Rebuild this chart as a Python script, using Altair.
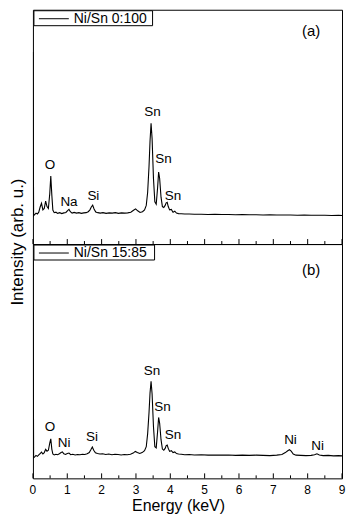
import altair as alt
import pandas as pd

FONT = "Liberation Sans"

# ---------------- data ----------------
series_names = ["Ni/Sn 0:100", "Ni/Sn 15:85"]
panel_tags = ["(a)", "(b)"]

energy_a = [0.00, 0.02, 0.05, 0.09, 0.13, 0.17, 0.21, 0.25, 0.29, 0.33, 0.37, 0.41, 0.45, 0.49, 0.52,
            0.55, 0.58, 0.62, 0.67, 0.72, 0.78, 0.84, 0.90, 0.96, 1.01, 1.05, 1.09, 1.14, 1.20, 1.27,
            1.34, 1.41, 1.48, 1.55, 1.61, 1.66, 1.70, 1.74, 1.78, 1.83, 1.89, 1.96, 2.04, 2.13, 2.22,
            2.31, 2.40, 2.49, 2.58, 2.67, 2.76, 2.85, 2.93, 2.99, 3.05, 3.12, 3.19, 3.25, 3.30, 3.34,
            3.38, 3.41, 3.44, 3.47, 3.51, 3.55, 3.59, 3.63, 3.66, 3.69, 3.73, 3.77, 3.81, 3.85, 3.88,
            3.91, 3.94, 3.98, 4.03, 4.08, 4.13, 4.18, 4.24, 4.32, 4.42, 4.55, 4.70, 4.90, 5.10, 5.30,
            5.50, 5.70, 5.90, 6.10, 6.30, 6.50, 6.70, 6.90, 7.10, 7.30, 7.50, 7.70, 7.90, 8.10, 8.30,
            8.50, 8.70, 8.90, 9.00]
intensity_a = [82.0, 12.0, 12.6, 13.2, 12.8, 13.6, 15.8, 17.4, 14.6, 15.2, 18.3, 16.0, 15.2, 21.5, 29.0,
               21.0, 14.5, 13.4, 13.6, 13.1, 13.4, 13.0, 13.3, 13.5, 14.3, 14.8, 13.8, 13.2, 13.5, 13.2,
               13.4, 13.1, 13.3, 13.4, 13.8, 14.6, 15.8, 16.6, 15.0, 13.7, 13.4, 13.2, 13.4, 13.1, 13.3,
               13.2, 13.4, 13.1, 13.3, 13.2, 13.3, 13.6, 14.4, 15.0, 14.2, 13.5, 13.8, 14.6, 16.5, 22.0,
               33.0, 44.0, 51.5, 45.0, 28.0, 18.0, 17.0, 24.0, 30.7, 28.0, 20.0, 16.0, 15.6, 16.5, 17.6,
               17.8, 16.0, 14.6, 14.8, 13.6, 14.0, 13.2, 13.0, 12.9, 12.8, 12.8, 12.7, 12.7, 12.6, 12.7,
               12.6, 12.6, 12.5, 12.6, 12.5, 12.5, 12.4, 12.5, 12.4, 12.4, 12.4, 12.3, 12.4, 12.3, 12.3,
               12.3, 12.2, 12.3, 12.2]

energy_b = [0.00, 0.02, 0.05, 0.09, 0.13, 0.17, 0.21, 0.25, 0.29, 0.33, 0.37, 0.41, 0.45, 0.49, 0.52,
            0.55, 0.58, 0.62, 0.67, 0.72, 0.77, 0.82, 0.86, 0.90, 0.95, 1.00, 1.05, 1.10, 1.16, 1.23,
            1.30, 1.37, 1.44, 1.51, 1.58, 1.64, 1.69, 1.73, 1.77, 1.82, 1.88, 1.95, 2.03, 2.12, 2.21,
            2.30, 2.39, 2.48, 2.57, 2.66, 2.75, 2.84, 2.92, 2.98, 3.04, 3.11, 3.18, 3.25, 3.30, 3.34,
            3.38, 3.41, 3.44, 3.47, 3.51, 3.55, 3.59, 3.63, 3.66, 3.69, 3.73, 3.77, 3.81, 3.85, 3.88,
            3.91, 3.94, 3.98, 4.03, 4.08, 4.13, 4.18, 4.24, 4.32, 4.42, 4.55, 4.70, 4.90, 5.10, 5.30,
            5.50, 5.70, 5.90, 6.10, 6.30, 6.50, 6.70, 6.90, 7.10, 7.25, 7.35, 7.42, 7.47, 7.52, 7.58,
            7.66, 7.80, 7.95, 8.10, 8.20, 8.27, 8.34, 8.45, 8.60, 8.75, 8.90, 9.00]
intensity_b = [100.0, 8.8, 9.2, 9.8, 9.4, 10.0, 10.6, 11.2, 10.4, 11.0, 12.4, 11.6, 12.0, 15.0, 16.9,
               12.5, 10.4, 10.0, 10.3, 10.1, 10.5, 11.0, 11.3, 10.5, 10.2, 10.6, 10.8, 10.1, 10.3, 10.0,
               10.2, 10.1, 10.3, 10.2, 10.5, 11.0, 12.3, 13.4, 12.0, 10.9, 10.6, 10.4, 10.5, 10.2, 10.4,
               10.1, 10.3, 10.2, 10.0, 10.2, 10.1, 10.3, 10.8, 11.5, 11.0, 10.6, 11.0, 11.8, 13.5, 19.0,
               28.0, 36.5, 41.4, 36.0, 22.0, 13.5, 13.0, 20.0, 26.0, 23.5, 16.5, 12.5, 12.0, 12.8, 14.0,
               14.2, 12.8, 11.5, 11.8, 11.0, 11.3, 10.6, 10.4, 10.3, 10.1, 10.2, 10.0, 10.1, 9.9, 10.0,
               9.9, 10.0, 9.8, 9.9, 9.8, 9.9, 9.8, 9.7, 9.9, 10.2, 11.0, 11.8, 12.2, 11.6, 10.4,
               9.9, 9.8, 9.7, 9.8, 10.1, 10.5, 10.0, 9.7, 9.8, 9.6, 9.7, 9.6]

labels_a_text = ["O", "Na", "Si", "Sn", "Sn", "Sn"]
labels_a_x = [0.50, 1.05, 1.76, 3.48, 3.80, 4.08]
labels_a_y = [33.6, 17.8, 20.7, 56.4, 36.1, 20.7]

labels_b_text = ["O", "Ni", "Si", "Sn", "Sn", "Sn", "Ni", "Ni"]
labels_b_x = [0.50, 0.91, 1.72, 3.47, 3.77, 4.08, 7.50, 8.29]
labels_b_y = [21.8, 15.0, 17.6, 45.7, 30.5, 18.4, 16.3, 13.8]

major_ticks = [0, 1, 2, 3, 4, 5, 6, 7, 8, 9]
major_tick_labels = ["0", "1", "2", "3", "4", "5", "6", "7", "8", "9"]
minor_ticks = [0.5, 1.5, 2.5, 3.5, 4.5, 5.5, 6.5, 7.5, 8.5]

y_title = "Intensity (arb. u.)"
x_title = "Energy (keV)"

# ---------------- layout ----------------
W = 310
H = 235
xscale = alt.Scale(domain=[0, 9], nice=False, zero=False)
yscale = alt.Scale(domain=[0, 100], nice=False, zero=False)


def panel(energy, intensity, name, lt, lx, ly, tag, tag_y, box_w, bottom):
    df = pd.DataFrame({"energy": energy, "intensity": intensity})
    line = alt.Chart(df).mark_line(strokeWidth=1.1, clip=True, color="black").encode(
        x=alt.X("energy:Q", scale=xscale, axis=None),
        y=alt.Y("intensity:Q", scale=yscale, axis=None),
    )
    ldf = pd.DataFrame({"t": lt, "x": lx, "y": ly})
    labels = alt.Chart(ldf).mark_text(font=FONT, fontSize=13.5, color="black", baseline="middle").encode(
        x=alt.X("x:Q", scale=xscale, axis=None), y=alt.Y("y:Q", scale=yscale, axis=None), text="t:N")
    tdf = pd.DataFrame({"t": [tag]})
    tagm = alt.Chart(tdf).mark_text(font=FONT, fontSize=15, color="black", baseline="middle").encode(
        x=alt.value(279), y=alt.value(tag_y), text="t:N")
    mdf = pd.DataFrame({"t": major_ticks, "lab": major_tick_labels})
    ndf = pd.DataFrame({"t": minor_ticks})
    maj = alt.Chart(mdf).mark_rule(color="black", strokeWidth=1).encode(
        x=alt.X("t:Q", scale=xscale, axis=None), y=alt.value(H), y2=alt.value(H - 5))
    mino = alt.Chart(ndf).mark_rule(color="black", strokeWidth=1).encode(
        x=alt.X("t:Q", scale=xscale, axis=None), y=alt.value(H), y2=alt.value(H - 3))
    # legend box (drawn as marks)
    sdf = pd.DataFrame({"t": [name]})
    lbox = alt.Chart(sdf).mark_rect(fill="white", stroke="black", strokeWidth=1).encode(
        x=alt.value(1), x2=alt.value(box_w), y=alt.value(1), y2=alt.value(16))
    lline = alt.Chart(sdf).mark_rule(color="black", strokeWidth=1).encode(
        x=alt.value(6), x2=alt.value(36), y=alt.value(9))
    ltext = alt.Chart(sdf).mark_text(font=FONT, fontSize=14, color="black", align="left",
                                     baseline="middle").encode(
        x=alt.value(41), y=alt.value(9), text="t:N")
    layers = [line, labels, tagm, maj, mino, lbox, lline, ltext]
    if bottom:
        ticklab = alt.Chart(mdf).mark_text(font=FONT, fontSize=12, color="black",
                                           baseline="middle").encode(
            x=alt.X("t:Q", scale=xscale, axis=None), y=alt.value(H + 12), text="lab:N")
        xdf = pd.DataFrame({"t": [x_title]})
        xt = alt.Chart(xdf).mark_text(font=FONT, fontSize=16, color="black",
                                      baseline="middle").encode(
            x=alt.value(146), y=alt.value(H + 28), text="t:N")
        layers += [ticklab, xt]
    else:
        ydf = pd.DataFrame({"t": [y_title]})
        yt = alt.Chart(ydf).mark_text(font=FONT, fontSize=17, color="black", angle=270,
                                      align="center", baseline="middle").encode(
            x=alt.value(-15), y=alt.value(H - 2), text="t:N")
        layers.append(yt)
    return alt.layer(*layers).properties(width=W, height=H)


top = panel(energy_a, intensity_a, series_names[0], labels_a_text, labels_a_x, labels_a_y,
            panel_tags[0], 21, 120, False)
bot = panel(energy_b, intensity_b, series_names[1], labels_b_text, labels_b_x, labels_b_y,
            panel_tags[1], 26, 122, True)

chart = alt.vconcat(top, bot, spacing=0, bounds="flush").properties(
    padding=0, background="white"
).configure_view(stroke="black", strokeWidth=1)

chart.save("out.html", embed_options={"renderer": "svg", "actions": False})
